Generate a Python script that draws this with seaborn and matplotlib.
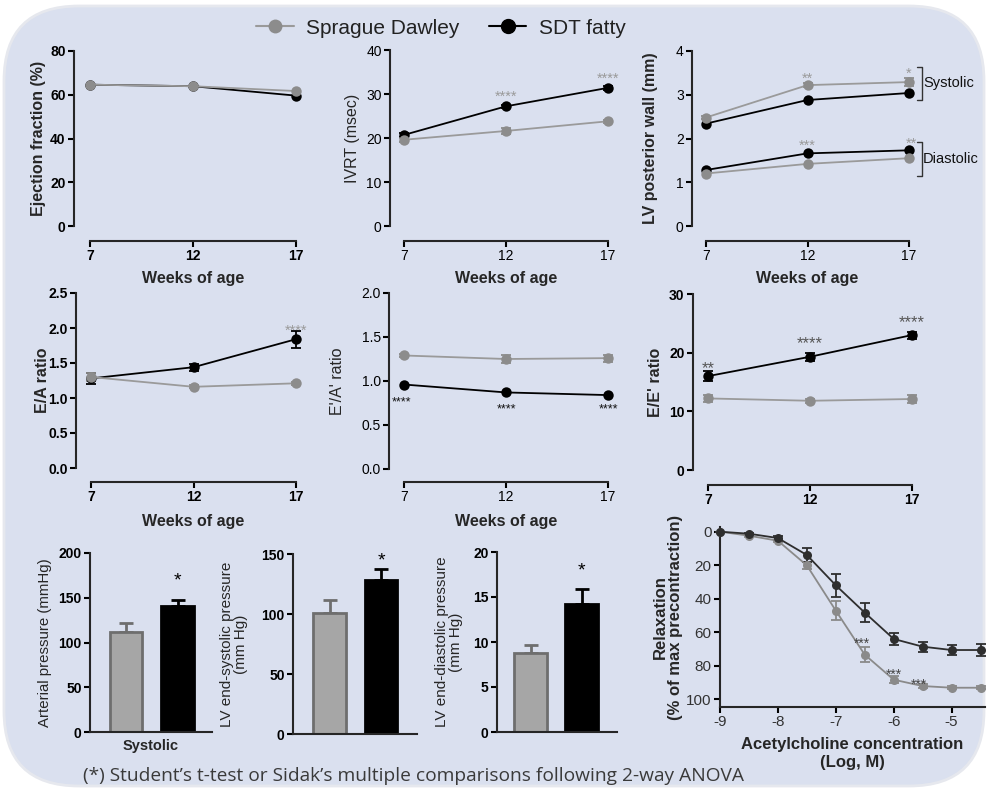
import matplotlib
matplotlib.use("Agg")
import matplotlib.pyplot as plt
import matplotlib.transforms as mtransforms
from matplotlib.patches import FancyBboxPatch
from matplotlib.lines import Line2D
import seaborn as sns
import pandas as pd

W, H = 988, 792

weeks = [7, 12, 17]

ef_sd = [64.6, 63.9, 61.7]
ef_sdt = [64.6, 63.9, 59.6]

ivrt_sd = [19.6, 21.6, 23.8]
ivrt_sd_err = [0.5, 0.6, 0.4]
ivrt_sdt = [20.7, 27.2, 31.4]
ivrt_sdt_err = [0.4, 0.4, 0.4]

lvpw_sys_sd = [2.48, 3.22, 3.29]
lvpw_sys_sd_err = [0.04, 0.04, 0.09]
lvpw_sys_sdt = [2.34, 2.88, 3.04]
lvpw_dia_sd = [1.20, 1.42, 1.55]
lvpw_dia_sdt = [1.28, 1.66, 1.73]

ea_sd = [1.30, 1.16, 1.21]
ea_sd_err = [0.06, 0.02, 0.02]
ea_sdt = [1.28, 1.44, 1.84]
ea_sdt_err = [0.08, 0.05, 0.12]

eap_sd = [1.29, 1.25, 1.26]
eap_sd_err = [0.02, 0.05, 0.04]
eap_sdt = [0.96, 0.87, 0.84]

ee_sd = [12.2, 11.8, 12.1]
ee_sd_err = [0.6, 0.3, 0.6]
ee_sdt = [16.0, 19.3, 23.0]
ee_sdt_err = [0.9, 0.7, 0.6]

groups = ["Sprague Dawley", "SDT fatty"]
art_pressure = [111.7, 141.0]
art_err = [10.3, 7.0]
lvesp = [100.7, 128.5]
lvesp_err = [11.1, 8.9]
lvedp = [8.77, 14.25]
lvedp_err = [0.93, 1.65]

ach_conc = [-9, -8.5, -8, -7.5, -7, -6.5, -6, -5.5, -5, -4.5]
relax_sd = [0, 2.4, 5.4, 20.1, 47.1, 73.4, 88.3, 92.1, 93.1, 93.1]
relax_sd_err = [0, 0.5, 0.5, 2, 5.5, 4.5, 2, 1, 1, 1]
relax_sdt = [0, 1.2, 3.8, 13.9, 32, 48.3, 64, 68.6, 70.6, 70.6]
relax_sdt_err = [0, 0.5, 1, 4, 7, 5.5, 3.5, 3, 3, 3.5]

GRAY = "#8c8c8c"
GRAY_LINE = "#9a9a9a"
BLACK = "#000000"
BG = "#dae0ef"

sns.set_style("ticks")
plt.rcParams["font.family"] = ["Liberation Sans", "DejaVu Sans"]
plt.rcParams["axes.unicode_minus"] = False
plt.rcParams["axes.linewidth"] = 1.5
plt.rcParams["xtick.major.width"] = 1.5
plt.rcParams["ytick.major.width"] = 1.5
plt.rcParams["xtick.major.size"] = 4
plt.rcParams["ytick.major.size"] = 4
plt.rcParams["xtick.color"] = "black"
plt.rcParams["ytick.color"] = "black"

fig = plt.figure(figsize=(W / 100, H / 100), dpi=100)
fig.patch.set_facecolor("white")
bg = FancyBboxPatch((4, 6), 980, 780, boxstyle="round,pad=0,rounding_size=75",
                    transform=mtransforms.IdentityTransform(), facecolor=BG,
                    edgecolor="#e6e8ee", linewidth=2, zorder=-10)
fig.patches.append(bg)


def px_rect(left, top, right, bottom):
    return [left / W, 1 - bottom / H, (right - left) / W, (bottom - top) / H]


def draw_series(ax, x, y, err, color, line_color, ms=7.5, lw=1.3):
    xl, yl = ax.get_xlabel(), ax.get_ylabel()
    df = pd.DataFrame({"x": x, "y": y})
    sns.lineplot(data=df, x="x", y="y", ax=ax, color=line_color, lw=lw,
                 marker="o", markersize=ms, markeredgewidth=0, zorder=3,
                 clip_on=False)
    ax.lines[-1].set_markerfacecolor(color)
    if err is not None:
        ax.errorbar(x, y, yerr=err, fmt="none", ecolor=color, elinewidth=1.3,
                    capsize=3.5, capthick=1.3, zorder=2, clip_on=False)
    ax.xaxis.label.set_text(xl)
    ax.yaxis.label.set_text(yl)


def line_panel(yaxis_x, x7, x17, ytop, ybot, axis_y, ymax, yticks, ylabel,
               ylabel_right, xlabel_top=None, bold_ticks=True, bold_ylabel=True,
               tick_fmt=None):
    right = x17 + 12
    ax = fig.add_axes(px_rect(yaxis_x, ytop, right, ybot))
    ax.patch.set_alpha(0)
    ppw = (x17 - x7) / 10
    ax.set_xlim(7 - (x7 - yaxis_x) / ppw, 17 + 12 / ppw)
    ax.set_ylim(0, ymax)
    for s in ["top", "right"]:
        ax.spines[s].set_visible(False)
    ax.spines["left"].set_bounds(0, ymax)
    ax.spines["bottom"].set_position(("outward", (axis_y - ybot) * 0.72))
    ax.spines["bottom"].set_bounds(7, 17)
    ax.set_xticks(weeks)
    ax.set_yticks(yticks)
    if tick_fmt:
        ax.set_yticklabels([tick_fmt.format(t) for t in yticks])
    tw = "bold" if bold_ticks else "normal"
    ax.tick_params(axis="both", labelsize=10, pad=2)
    for lab in ax.get_xticklabels() + ax.get_yticklabels():
        lab.set_fontweight(tw)
    ax.set_ylabel(ylabel, fontsize=11.5,
                  fontweight="bold" if bold_ylabel else "normal")
    ax.yaxis.set_label_coords((ylabel_right - yaxis_x) / (right - yaxis_x), 0.5)
    if xlabel_top is not None:
        ax.set_xlabel("Weeks of age", fontsize=11.5, fontweight="bold")
        ax.xaxis.set_label_coords(((x7 + x17) / 2 - yaxis_x) / (right - yaxis_x),
                                  -(xlabel_top - ybot) / (ybot - ytop))
    else:
        ax.set_xlabel("")
    return ax


def stars(ax, text, x, y, dy, dx=0, size=10.5, color="#9a9a9a", weight="normal"):
    ax.annotate(text, xy=(x, y), xytext=(dx, dy), textcoords="offset points",
                ha="center", va="center", fontsize=size, color=color,
                fontweight=weight, annotation_clip=False)


# Row 1
ax = line_panel(74, 90, 296, 51, 226, 241, 80, [0, 20, 40, 60, 80],
                "Ejection fraction (%)", 46, 271)
draw_series(ax, weeks, ef_sdt, None, BLACK, BLACK)
draw_series(ax, weeks, ef_sd, None, GRAY, GRAY_LINE)

ax = line_panel(390, 404, 608, 50, 226, 241, 40, [0, 10, 20, 30, 40],
                "IVRT (msec)", 360, 271, bold_ticks=False, bold_ylabel=False)
draw_series(ax, weeks, ivrt_sdt, ivrt_sdt_err, BLACK, BLACK)
draw_series(ax, weeks, ivrt_sd, ivrt_sd_err, GRAY, GRAY_LINE)
stars(ax, "****", 12, ivrt_sdt[1], 6.8)
stars(ax, "****", 17, ivrt_sdt[2], 6.5)

ax = line_panel(692, 706, 909, 51, 226, 241, 4, [0, 1, 2, 3, 4],
                "LV posterior wall (mm)", 658, 271, bold_ticks=False)
draw_series(ax, weeks, lvpw_sys_sdt, None, BLACK, BLACK)
draw_series(ax, weeks, lvpw_sys_sd, lvpw_sys_sd_err, GRAY, GRAY_LINE)
draw_series(ax, weeks, lvpw_dia_sdt, None, BLACK, BLACK)
draw_series(ax, weeks, lvpw_dia_sd, None, GRAY, GRAY_LINE)
stars(ax, "**", 12, lvpw_sys_sd[1], 4.6)
stars(ax, "*", 17, lvpw_sys_sd[2], 6)
stars(ax, "***", 12, lvpw_dia_sdt[1], 5.8)
stars(ax, "**", 17, lvpw_dia_sdt[2], 4.6, dx=1.5)
for y0, y1, label in [(3.64, 2.88, "Systolic"), (1.91, 1.15, "Diastolic")]:
    bx = 17.62
    ax.plot([bx - 0.25, bx, bx, bx - 0.25], [y0, y0, y1, y1], color="#333333",
            lw=1, clip_on=False)
    ax.text(bx + 0.08, (y0 + y1) / 2, label, fontsize=10.5, va="center",
            ha="left", color="#111111", clip_on=False)

# Row 2
ax = line_panel(76, 91, 296, 293, 468, 482, 2.5, [0, 0.5, 1.0, 1.5, 2.0, 2.5],
                "E/A ratio", 50, 514, tick_fmt="{:.1f}")
draw_series(ax, weeks, ea_sdt, ea_sdt_err, BLACK, BLACK)
draw_series(ax, weeks, ea_sd, ea_sd_err, GRAY, GRAY_LINE)
stars(ax, "****", 17, ea_sdt[2], 6)

ax = line_panel(389, 404, 608, 293, 469, 482, 2.0, [0, 0.5, 1.0, 1.5, 2.0],
                "E'/A' ratio", 345, 514, bold_ticks=False, bold_ylabel=False,
                tick_fmt="{:.1f}")
draw_series(ax, weeks, eap_sd, eap_sd_err, GRAY, GRAY_LINE)
draw_series(ax, weeks, eap_sdt, None, BLACK, BLACK)
stars(ax, "****", 7, eap_sdt[0], -13, dx=-2, size=9, color="#111111")
stars(ax, "****", 12, eap_sdt[1], -12.5, size=9, color="#111111")
stars(ax, "****", 17, eap_sdt[2], -10.5, size=9, color="#111111")

ax = line_panel(693, 708, 912, 294, 470, 485, 30, [0, 10, 20, 30],
                "E/E' ratio", 663, None)
draw_series(ax, weeks, ee_sd, ee_sd_err, GRAY, GRAY_LINE)
draw_series(ax, weeks, ee_sdt, ee_sdt_err, BLACK, BLACK)
stars(ax, "**", 7, ee_sdt[0], 5.5, size=12, color="#555555")
stars(ax, "****", 12, ee_sdt[1], 9.2, size=12, color="#555555")
stars(ax, "****", 17, ee_sdt[2], 9, size=12, color="#555555")


# Row 3: bars
def bar_panel(yaxis_x, xend, c_gray, c_black, ytop, ybot, values, errs, ymax,
              yticks, ylabel, ylabel_right, star_dy, xlabel=None, lab_size=11):
    ax = fig.add_axes(px_rect(yaxis_x, ytop, xend, ybot))
    ax.patch.set_alpha(0)
    df = pd.DataFrame({"group": groups, "value": values})
    sns.barplot(data=df, x="group", y="value", hue="group",
                palette=["#a6a6a6", "#000000"], width=0.63, legend=False,
                ax=ax, zorder=2)
    edges = ["#6e6e6e", "#000000"]
    for p, ec in zip(ax.patches, edges):
        p.set_edgecolor(ec)
        p.set_linewidth(2)
    for i in range(2):
        ax.errorbar([i], [values[i]], yerr=[[0], [errs[i]]], fmt="none",
                    ecolor=edges[i], elinewidth=2, capsize=5, capthick=2,
                    zorder=1)
    unit = c_black - c_gray
    ax.set_xlim(-(c_gray - yaxis_x) / unit, 1 + (xend - c_black) / unit)
    ax.set_ylim(0, ymax)
    ax.set_yticks(yticks)
    for s in ["top", "right"]:
        ax.spines[s].set_visible(False)
    ax.spines["left"].set_bounds(0, ymax)
    ax.set_xticks([])
    ax.tick_params(axis="y", labelsize=10, pad=2)
    for lab in ax.get_yticklabels():
        lab.set_fontweight("bold")
    ax.set_ylabel(ylabel, fontsize=lab_size, linespacing=1.0)
    ax.yaxis.set_label_coords((ylabel_right - yaxis_x) / (xend - yaxis_x), 0.5)
    if xlabel:
        ax.set_xlabel(xlabel, fontsize=10.5, fontweight="bold", labelpad=5)
    else:
        ax.set_xlabel("")
    stars(ax, "*", 1, values[1] + errs[1], star_dy, size=14, color="black")
    return ax


bar_panel(90, 212, 126, 177.5, 553, 732, art_pressure, art_err, 200,
          [0, 50, 100, 150, 200], "Arterial pressure (mmHg)", 52, 13.3,
          xlabel="Systolic", lab_size=10.8)
bar_panel(293, 417, 329.5, 381, 554, 734, lvesp, lvesp_err, 150,
          [0, 50, 100, 150], "LV end-systolic pressure\n(mm Hg)", 248, 5.8)
bar_panel(497, 617, 530.5, 581.5, 552, 732, lvedp, lvedp_err, 20,
          [0, 5, 10, 15, 20], "LV end-diastolic pressure\n(mm Hg)", 463, 13)

# Relaxation
ax = fig.add_axes(px_rect(720, 527, 985, 707))
ax.patch.set_alpha(0)
ax.set_xlim(-9, -9 + (985 - 720) / 57.9)
ax.set_ylim(104.6, -2.8)
draw_series(ax, ach_conc, relax_sd, relax_sd_err, "#8a8a8a", "#8a8a8a", ms=6.5)
draw_series(ax, ach_conc, relax_sdt, relax_sdt_err, "#2e2e2e", "#2e2e2e", ms=6.5)
for s in ["top", "right"]:
    ax.spines[s].set_visible(False)
ax.set_xticks([-9, -8, -7, -6, -5])
ax.set_yticks([0, 20, 40, 60, 80, 100])
ax.tick_params(axis="both", labelsize=11, pad=2, labelcolor="#333333")
ax.set_ylabel("Relaxation\n(% of max precontraction)", fontsize=12,
              fontweight="bold", linespacing=1.0)
ax.yaxis.set_label_coords((683 - 720) / (985 - 720), 0.5)
ax.set_xlabel("Acetylcholine concentration\n(Log, M)", fontsize=12,
              fontweight="bold", linespacing=1.25)
ax.xaxis.set_label_coords(0.5, -(737 - 707) / (707 - 527))
stars(ax, "***", -6.5, relax_sd[5], 8, dx=-2, size=10, color="#444444")
stars(ax, "***", -6, relax_sd[6], 3.8, size=10, color="#444444")
stars(ax, "***", -5.5, relax_sd[7], 1.2, dx=-3, size=10, color="#444444")

# Legend and footnote
handles = [Line2D([], [], color=GRAY_LINE, marker="o", markerfacecolor=GRAY,
                  markeredgewidth=0, markersize=10, lw=1.5),
           Line2D([], [], color=BLACK, marker="o", markersize=10, lw=1.5)]
fig.legend(handles, groups, loc="center", bbox_to_anchor=(441 / W, 1 - 28 / H),
           ncol=2, frameon=False, fontsize=15, handlelength=1.8,
           handletextpad=0.6, columnspacing=1.4, labelcolor="#222222")

fig.text(83 / W, 1 - 776 / H,
         "(*) Student\u2019s t-test or Sidak\u2019s multiple comparisons following 2-way ANOVA",
         fontsize=13.8, family=["Open Sans", "DejaVu Sans"], color="#3a3a3a",
         va="center", ha="left")

fig.savefig("out.png", dpi=100, facecolor=fig.get_facecolor())
